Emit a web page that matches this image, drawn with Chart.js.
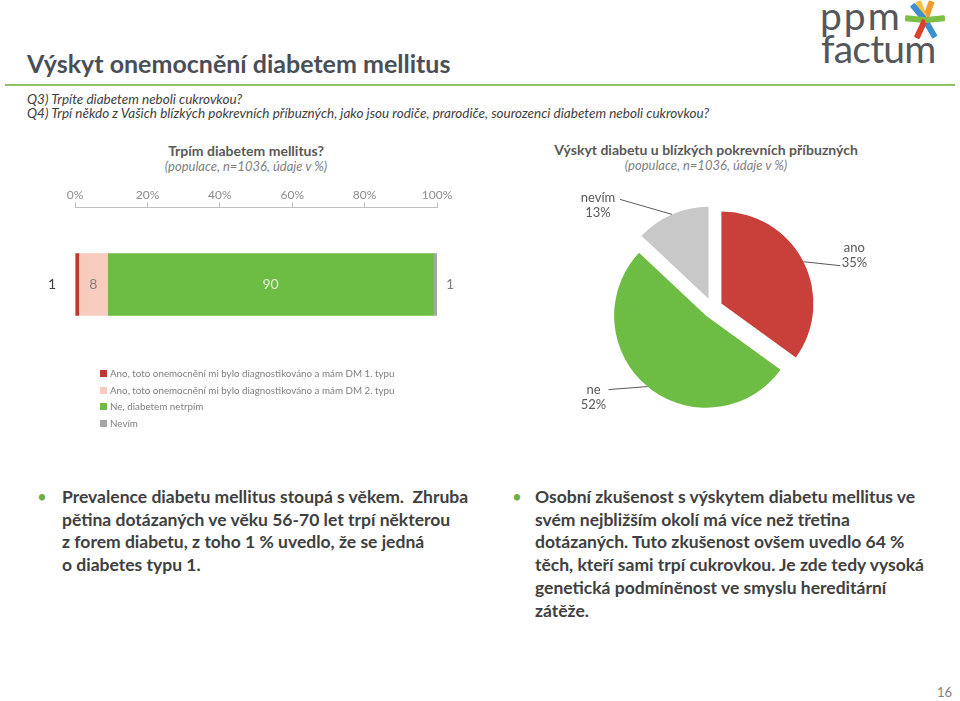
<!DOCTYPE html>
<html lang="cs">
<head>
<meta charset="utf-8">
<title>Výskyt onemocnění diabetem mellitus</title>
<script src="https://cdn.jsdelivr.net/npm/chart.js@4.4.1/dist/chart.umd.min.js"></script>
<style>
    html, body { margin: 0; padding: 0; background: #fff; }
    body { width: 960px; height: 701px; position: relative; overflow: hidden; font-family: Lato, "Open Sans", sans-serif; color: #404040; }
    .abs { position: absolute; white-space: nowrap; }
    #title { left: 27px; top: 48px; font-size: 25px; font-weight: 700; color: #4a4e57; }
    #rule { left: 5px; top: 84px; width: 950px; height: 2px; background: #8cc063; }
    .question { left: 27px; font-size: 13.5px; font-style: italic; color: #404040; }
    .chart-title { font-size: 14px; font-weight: 700; color: #595959; text-align: center; }
    .chart-sub { font-size: 13px; font-style: italic; color: #7f7f7f; text-align: center; }
    #barChart { left: 0; top: 180px; }
    #pieChart { left: 560px; top: 180px; }
    #legend { left: 100px; top: 365px; font-size: 9.8px; color: #7f7f7f; }
    #legend div { height: 16.5px; line-height: 16.5px; }
    #legend span { display: inline-block; width: 7px; height: 7px; margin-right: 3px; vertical-align: 0; }
    .bullets { top: 486px; font-size: 17.5px; font-weight: 700; line-height: 22.7px; color: #404040; }
    .dot { font-size: 17px; color: #70ad47; line-height: 22.7px; }
    #page { left: 937px; top: 684px; font-size: 13px; color: #7f7f7f; }
    .logo-text { font-weight: 400; color: #55575a; font-size: 39px; }
    .arm { position: absolute; width: 6px; height: 20px; border-radius: 1px; transform-origin: 50% 0; }
</style>
</head>
<body>
<div id="title" class="abs">Výskyt onemocnění diabetem mellitus</div>
<div id="rule" class="abs"></div>
<div class="abs question" style="top:91px">Q3) Trpíte diabetem neboli cukrovkou?</div>
<div class="abs question" style="top:105px">Q4) Trpí někdo z Vašich blízkých pokrevních příbuzných, jako jsou rodiče, prarodiče, sourozenci diabetem neboli cukrovkou?</div>

<div class="abs logo-text" style="left:820px;top:-8px;letter-spacing:2px">ppm</div>
<div class="abs logo-text" style="left:821px;top:25px;letter-spacing:-0.8px">factum</div>
<div class="abs" id="star" style="left:925px;top:20px;width:0;height:0"></div>

<div class="abs chart-title" style="left:96px;top:142px;width:300px">Trpím diabetem mellitus?</div>
<div class="abs chart-sub" style="left:96px;top:158px;width:300px">(populace, n=1036, údaje v %)</div>
<div class="abs chart-title" style="left:506px;top:141px;width:400px">Výskyt diabetu u blízkých pokrevních příbuzných</div>
<div class="abs chart-sub" style="left:506px;top:157px;width:400px">(populace, n=1036, údaje v %)</div>

<canvas id="barChart" class="abs" width="480" height="209"></canvas>
<canvas id="pieChart" class="abs" width="320" height="240"></canvas>
<div id="legend" class="abs"></div>

<div class="abs dot" style="left:37px;top:486px">•</div>
<div class="abs bullets" style="left:62px">Prevalence diabetu mellitus stoupá s věkem.&nbsp; Zhruba<br>pětina dotázaných ve věku 56-70 let trpí některou<br>z forem diabetu, z toho 1 % uvedlo, že se jedná<br>o diabetes typu 1.</div>
<div class="abs dot" style="left:512px;top:486px">•</div>
<div class="abs bullets" style="left:535px">Osobní zkušenost s výskytem diabetu mellitus ve<br>svém nejbližším okolí má více než třetina<br>dotázaných. Tuto zkušenost ovšem uvedlo 64 %<br>těch, kteří sami trpí cukrovkou. Je zde tedy vysoká<br>genetická podmíněnost ve smyslu hereditární<br>zátěže.</div>
<div id="page" class="abs">16</div>

<script>
// --- data ---
const categories = ['1'];
const seriesNames = [
    'Ano, toto onemocnění mi bylo diagnostikováno a mám DM 1. typu',
    'Ano, toto onemocnění mi bylo diagnostikováno a mám DM 2. typu',
    'Ne, diabetem netrpím',
    'Nevím'
];
const dm1Values = [1];
const dm2Values = [8];
const noValues = [90];
const dontKnowValues = [1];
const xTickValues = [0, 20, 40, 60, 80, 100];

const pieLabels = ['ano', 'ne', 'nevím'];
const pieValues = [35, 52, 13];

// --- styles ---
const barColors = ['#c0392f', '#f7cbbe', '#6dbd45', '#a6a6a6'];
const barLabelColors = [null, '#7f7f7f', '#e6f2dc', '#7f7f7f'];
const pieColors = ['#c9403a', '#6dbd45', '#c8c8c8'];
const explode = 10; // px each slice is pulled out
// leader line end (from slice edge) and text offset (from line end)
const pieLabelLayout = [
    { dx: 37, dy: 4, tx: 14, ty: -18 },
    { dx: -39, dy: 3, tx: -15, ty: 0 },
    { dx: -52, dy: -15, tx: -22, ty: -2 }
];

Chart.defaults.font.family = 'Lato, "Open Sans", sans-serif';
Chart.defaults.animation = false;

// logo asterisk
const star = document.getElementById('star');
[['#f29a2e', 200], ['#f6c141', 160], ['#3c8fd0', 140], ['#7cbf45', 95], ['#3c8fd0', 330], ['#d8412f', 25], ['#7cbf45', 265]].forEach(a => {
    const d = document.createElement('div');
    d.className = 'arm';
    d.style.background = a[0];
    d.style.left = '-3px';
    d.style.transform = 'rotate(' + a[1] + 'deg)';
    star.appendChild(d);
});

// value labels on the stacked bar
const barValueLabels = {
    id: 'barValueLabels',
    afterDatasetsDraw(chart) {
        const ctx = chart.ctx;
        ctx.save();
        ctx.font = '14px ' + Chart.defaults.font.family;
        ctx.textBaseline = 'middle';
        chart.data.datasets.forEach((ds, i) => {
            if (!barLabelColors[i]) return;
            chart.getDatasetMeta(i).data.forEach((bar, j) => {
                const last = i === chart.data.datasets.length - 1;
                ctx.fillStyle = barLabelColors[i];
                if (last) {
                    ctx.textAlign = 'left';
                    ctx.fillText(ds.data[j], bar.x + 9, bar.y);
                } else {
                    ctx.textAlign = 'center';
                    ctx.fillText(ds.data[j], (bar.base + bar.x) / 2, bar.y);
                }
            });
        });
        ctx.restore();
    }
};

const barChart = new Chart(document.getElementById('barChart'), {
    type: 'bar',
    data: {
        labels: categories,
        datasets: [dm1Values, dm2Values, noValues, dontKnowValues].map((vals, i) => ({
            label: seriesNames[i],
            data: vals,
            backgroundColor: barColors[i],
            barThickness: 62
        }))
    },
    options: {
        indexAxis: 'y',
        responsive: false,
        layout: { padding: { left: 29, right: 43, top: 6, bottom: 2 } },
        plugins: { legend: { display: false }, tooltip: { enabled: false } },
        scales: {
            x: {
                position: 'top',
                stacked: true,
                min: 0,
                max: 100,
                afterBuildTicks(axis) { axis.ticks = xTickValues.map(v => ({ value: v })); },
                ticks: { padding: 0, color: '#8c8c8c', font: { size: 12 }, callback: v => v + '%' },
                grid: { drawOnChartArea: false, drawTicks: true, tickLength: 5, tickColor: '#bfbfbf' },
                border: { color: '#bfbfbf' }
            },
            y: {
                stacked: true,
                grid: { display: false, drawTicks: false },
                border: { display: false },
                ticks: { padding: 19, color: '#404040', font: { size: 14 } }
            }
        }
    },
    plugins: [barValueLabels]
});

// html legend built from the bar datasets
const legendBox = document.getElementById('legend');
barChart.data.datasets.forEach(ds => {
    const row = document.createElement('div');
    const sw = document.createElement('span');
    sw.style.background = ds.backgroundColor;
    row.appendChild(sw);
    row.appendChild(document.createTextNode(ds.label));
    legendBox.appendChild(row);
});

// draw the slices pulled out from the centre (same radius for all)
const explodedSlices = {
    id: 'explodedSlices',
    beforeDatasetDraw(chart, args) {
        const ctx = chart.ctx;
        args.meta.data.forEach(arc => {
            const mid = (arc.startAngle + arc.endAngle) / 2;
            ctx.save();
            ctx.translate(Math.cos(mid) * explode, Math.sin(mid) * explode);
            arc.draw(ctx, chart.chartArea);
            ctx.restore();
        });
        return false;
    }
};

// pie labels with leader lines
const pieCallouts = {
    id: 'pieCallouts',
    afterDatasetsDraw(chart) {
        const ctx = chart.ctx;
        const meta = chart.getDatasetMeta(0);
        ctx.save();
        ctx.font = '13px ' + Chart.defaults.font.family;
        ctx.textAlign = 'center';
        ctx.textBaseline = 'middle';
        ctx.strokeStyle = '#595959';
        ctx.lineWidth = 1;
        meta.data.forEach((arc, i) => {
            const mid = (arc.startAngle + arc.endAngle) / 2;
            const ex = arc.x + Math.cos(mid) * (explode + arc.outerRadius);
            const ey = arc.y + Math.sin(mid) * (explode + arc.outerRadius);
            const lay = pieLabelLayout[i];
            const lx = ex + lay.dx, ly = ey + lay.dy;
            ctx.beginPath();
            ctx.moveTo(ex, ey);
            ctx.lineTo(lx, ly);
            ctx.stroke();
            ctx.fillStyle = '#595959';
            ctx.fillText(chart.data.labels[i], lx + lay.tx, ly + lay.ty);
            ctx.fillText(chart.data.datasets[0].data[i] + '%', lx + lay.tx, ly + lay.ty + 15.5);
        });
        ctx.restore();
    }
};

new Chart(document.getElementById('pieChart'), {
    type: 'pie',
    data: {
        labels: pieLabels,
        datasets: [{
            data: pieValues,
            backgroundColor: pieColors,
            borderWidth: 0
        }]
    },
    options: {
        responsive: false,
        layout: { padding: { left: 60.5, right: 75.5, top: 36, bottom: 20 } },
        plugins: { legend: { display: false }, tooltip: { enabled: false } }
    },
    plugins: [explodedSlices, pieCallouts]
});
</script>
</body>
</html>
